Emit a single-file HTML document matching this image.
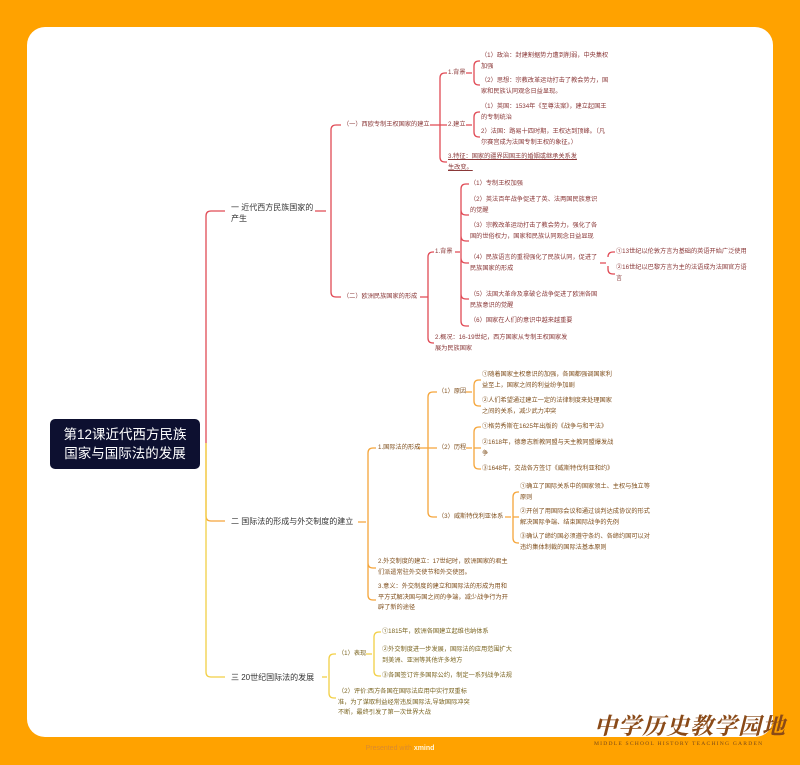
<!DOCTYPE html>
<html><head><meta charset="utf-8"><style>
*{margin:0;padding:0}
body{width:800px;height:765px;background:#ffa200;position:relative;overflow:hidden;font-family:"Liberation Sans","Noto Sans CJK SC",sans-serif}
#card{position:absolute;left:27px;top:27px;width:746px;height:710px;background:#fff;border-radius:18px}
.t{position:absolute;font-size:6.2px;line-height:10.5px;white-space:nowrap}
.r{color:#8a3838}.o{color:#80501e}.y{color:#7a6420}
.m{position:absolute;font-size:8px;line-height:11px;color:#333;white-space:nowrap}
#root{position:absolute;left:50px;top:419px;width:150px;height:50px;background:#0d1030;border-radius:5px;color:#fff;font-size:13.5px;line-height:19px;text-align:center;padding-top:6px;box-sizing:border-box}
svg{position:absolute;left:0;top:0}
</style></head><body>
<div id="card"></div>
<svg width="800" height="765" fill="none" stroke-width="1.3">
<g stroke="#e04a55">
<path d="M206 443 V216 Q206 211 211 211 H225"/>
<path d="M315 211 H326 M331 130 Q331 125 336 125 H341 M331 130 V292 Q331 297 336 297 H341"/>
<path d="M430 125 H436 M440 78 Q440 73 445 73 H447 M436 125 H447 M440 78 V157 Q440 162 445 162 H447"/>
<path d="M466 73 H472 M474 66 Q474 61 479 61 H480 M474 66 V80 Q474 85 479 85 H480"/>
<path d="M466 125 H472 M474 117 Q474 112 479 112 H480 M474 117 V132 Q474 137 479 137 H480"/>
<path d="M420 297 H428 M428 257 Q428 252 433 252 H434 M428 257 V338 Q428 343 433 343 H434"/>
<path d="M455 252 H460 M461 189 Q461 184 466 184 H469 M461 189 V321 Q461 326 466 326 H469 M461 210 Q461 215 466 215 H469 M461 236 Q461 241 466 241 H469 M461 258 Q461 263 466 263 H469 M461 294 Q461 299 466 299 H469"/>
<path d="M600 263 H606 M608 257 Q608 252 613 252 H615 M608 266 V269 Q608 274 613 274 H615"/>
</g>
<g stroke="#f5a53a">
<path d="M206 443 V516 Q206 521 211 521 H225"/>
<path d="M358 522 H366 M368 453 Q368 448 373 448 H376 M368 453 V595 Q368 600 373 600 H376 M368 563 Q368 568 373 568 H376"/>
<path d="M418 448 H428 M428 397 Q428 392 433 392 H437 M428 397 V512 Q428 517 433 517 H437 M428 448 H437"/>
<path d="M466 392 H472 M474 385 Q474 380 479 380 H481 M474 385 V401 Q474 406 479 406 H481"/>
<path d="M466 448 H472 M474 432 Q474 427 479 427 H481 M474 432 V464 Q474 469 479 469 H481 M474 448 H481"/>
<path d="M505 517 H511 M513 497 Q513 492 518 492 H519 M513 497 V538 Q513 543 518 543 H519 M513 517 H519"/>
</g>
<g stroke="#f2cf45">
<path d="M206 443 V672 Q206 677 211 677 H225"/>
<path d="M322 677 H327 M329 659 Q329 654 334 654 H336 M329 659 V693 Q329 698 334 698 H336"/>
<path d="M366 654 H372 M374 637 Q374 632 379 632 H381 M374 637 V671 Q374 676 379 676 H381"/>
</g>
</svg>
<div id="root">第12课近代西方民族<br>国家与国际法的发展</div>
<div class="m" style="left:231px;top:202px">一 近代西方民族国家的<br>产生</div>
<div class="m" style="left:231px;top:516px">二 国际法的形成与外交制度的建立</div>
<div class="m" style="left:231px;top:672px">三 20世纪国际法的发展</div>

<div class="t r" style="left:343px;top:120px">（一）西欧专制王权国家的建立</div>
<div class="t r" style="left:448px;top:68px">1.背景</div>
<div class="t r" style="left:448px;top:120px">2.建立</div>
<div class="t r" style="left:448px;top:152px;text-decoration:underline">3.特征：国家的疆界因国王的婚姻或继承关系发<br>生改变。</div>
<div class="t r" style="left:481px;top:51px">（1）政治：封建割据势力遭到削弱，中央集权<br>加强</div>
<div class="t r" style="left:481px;top:76px">（2）思想：宗教改革运动打击了教会势力，国<br>家和民族认同观念日益显现。</div>
<div class="t r" style="left:481px;top:102px">（1）英国：1534年《至尊法案》，建立起国王<br>的专制统治</div>
<div class="t r" style="left:481px;top:127px">2）法国：路易十四时期，王权达到顶峰。（凡<br>尔赛宫成为法国专制王权的象征。）</div>
<div class="t r" style="left:343px;top:292px">（二）欧洲民族国家的形成</div>
<div class="t r" style="left:435px;top:247px">1.背景</div>
<div class="t r" style="left:435px;top:333px">2.概况：16-19世纪，西方国家从专制王权国家发<br>展为民族国家</div>
<div class="t r" style="left:470px;top:179px">（1）专制王权加强</div>
<div class="t r" style="left:470px;top:195px">（2）英法百年战争促进了英、法两国民族意识<br>的觉醒</div>
<div class="t r" style="left:470px;top:221px">（3）宗教改革运动打击了教会势力，强化了各<br>国的世俗权力，国家和民族认同观念日益显现</div>
<div class="t r" style="left:470px;top:253px">（4）民族语言的重视强化了民族认同，促进了<br>民族国家的形成</div>
<div class="t r" style="left:470px;top:290px">（5）法国大革命及拿破仑战争促进了欧洲各国<br>民族意识的觉醒</div>
<div class="t r" style="left:470px;top:316px">（6）国家在人们的意识中越来越重要</div>
<div class="t r" style="left:616px;top:247px">①13世纪以伦敦方言为基础的英语开始广泛使用</div>
<div class="t r" style="left:616px;top:263px">②16世纪以巴黎方言为主的法语成为法国官方语<br>言</div>

<div class="t o" style="left:378px;top:443px">1.国际法的形成</div>
<div class="t o" style="left:378px;top:557px">2.外交制度的建立：17世纪时，欧洲国家的君主<br>们派遣常驻外交使节和外交使团。</div>
<div class="t o" style="left:378px;top:582px">3.意义：外交制度的建立和国际法的形成为用和<br>平方式解决国与国之间的争端，减少战争行为开<br>辟了新的途径</div>
<div class="t o" style="left:438px;top:387px">（1）原因</div>
<div class="t o" style="left:438px;top:443px">（2）历程</div>
<div class="t o" style="left:438px;top:512px">（3）威斯特伐利亚体系</div>
<div class="t o" style="left:482px;top:370px">①随着国家主权意识的加强，各国都强调国家利<br>益至上，国家之间的利益纷争加剧</div>
<div class="t o" style="left:482px;top:396px">②人们希望通过建立一定的法律制度来处理国家<br>之间的关系，减少武力冲突</div>
<div class="t o" style="left:482px;top:422px">①格劳秀斯在1625年出版的《战争与和平法》</div>
<div class="t o" style="left:482px;top:438px">②1618年，德意志新教同盟与天主教同盟爆发战<br>争</div>
<div class="t o" style="left:482px;top:464px">③1648年，交战各方签订《威斯特伐利亚和约》</div>
<div class="t o" style="left:520px;top:482px">①确立了国际关系中的国家领土、主权与独立等<br>原则</div>
<div class="t o" style="left:520px;top:507px">②开创了用国际会议和通过谈判达成协议的形式<br>解决国际争端、结束国际战争的先例</div>
<div class="t o" style="left:520px;top:532px">③确认了缔约国必须遵守条约、各缔约国可以对<br>违约集体制裁的国际法基本原则</div>

<div class="t y" style="left:338px;top:649px">（1）表现</div>
<div class="t y" style="left:338px;top:687px">（2）评价:西方各国在国际法应用中实行双重标<br>准，为了谋取利益经常违反国际法,导致国际冲突<br>不断，最终引发了第一次世界大战</div>
<div class="t y" style="left:382px;top:627px">①1815年，欧洲各国建立起维也纳体系</div>
<div class="t y" style="left:382px;top:645px">②外交制度进一步发展，国际法的应用范围扩大<br>到美洲、亚洲等其他许多地方</div>
<div class="t y" style="left:382px;top:671px">③各国签订许多国际公约，制定一系列战争法规</div>

<div style="position:absolute;left:0;top:745px;width:800px;text-align:center;font-size:7px;color:#d98a30">Presented with <b style="color:#fff7e0">xmind</b></div>
<div style="position:absolute;left:594px;top:708px;font-family:'Noto Serif CJK SC',serif;font-weight:bold;font-size:23px;letter-spacing:1px;color:#8a4a18;white-space:nowrap;font-style:italic">中学历史教学园地</div>
<div style="position:absolute;left:594px;top:741px;font-family:'Liberation Serif',serif;font-size:5.6px;letter-spacing:1.2px;color:#7a4a18;white-space:nowrap">MIDDLE SCHOOL HISTORY TEACHING GARDEN</div>
</body></html>
